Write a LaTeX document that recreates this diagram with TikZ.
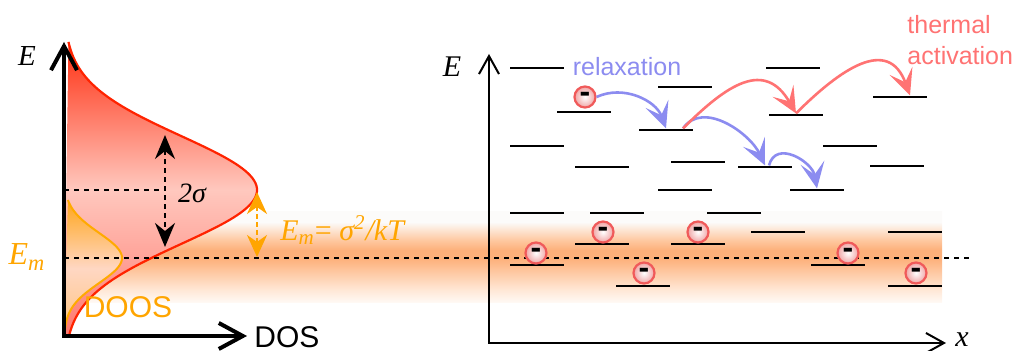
\documentclass[tikz,border=0pt]{standalone}
\usepackage{fontspec}
\setmainfont{Liberation Serif}
\setsansfont{Liberation Sans}
\usetikzlibrary{arrows.meta, calc}
\definecolor{dosred}{RGB}{255,35,0}
\definecolor{dostop}{RGB}{255,45,15}
\definecolor{dosmid}{RGB}{255,200,190}
\definecolor{dosbot}{RGB}{255,120,110}
\definecolor{doosline}{RGB}{255,170,0}
\definecolor{doostop}{RGB}{255,165,25}
\definecolor{doosmid}{RGB}{255,215,195}
\definecolor{doosbot}{RGB}{255,195,120}
\definecolor{emorange}{RGB}{255,165,0}
\definecolor{relaxblue}{RGB}{140,140,240}
\definecolor{thermred}{RGB}{255,115,115}
\definecolor{ering}{RGB}{240,90,90}
\definecolor{efill}{RGB}{240,165,165}
\definecolor{bandedge}{RGB}{255,250,246}
\definecolor{bandlow}{RGB}{255,232,215}
\definecolor{bandmid}{RGB}{254,205,170}
\definecolor{bandpeak}{RGB}{253,176,122}
\definecolor{bandup}{RGB}{254,200,160}
\definecolor{bandtop}{RGB}{252,251,250}
\pgfdeclareverticalshading{emband}{100bp}{color(0bp)=(bandedge); color(25bp)=(bandedge);
  color(32bp)=(bandlow); color(40.5bp)=(bandmid); color(49.5bp)=(bandpeak);
  color(54bp)=(bandpeak); color(59.5bp)=(bandup); color(69.5bp)=(bandtop);
  color(75bp)=(bandtop); color(100bp)=(bandtop)}

\tikzset{
  estate/.style={fill=black, inner sep=0pt, minimum width=27pt, minimum height=1.2pt},
  electron/.style={circle, draw=ering, line width=1.1pt, inner color=white, outer color=efill,
    minimum size=10.5pt, inner sep=0pt, font=\sffamily\bfseries\fontsize{16}{16}\selectfont},
  hop/.style={line width=1.3pt, -{Stealth[length=13pt,width=12pt,inset=6pt]}},
  emdash/.style={line width=1.2pt, dash pattern=on 2.5pt off 2.5pt},
}

\begin{document}
\begin{tikzpicture}[x=0.5pt, y=0.5pt]
  \useasboundingbox (0,0) rectangle (1017,351);
  % band around E_m
  \shade[shading=emband] (64,48) rectangle (942,139);

  % DOS and DOOS
  \shade[top color=dostop, bottom color=dosbot, middle color=dosmid]
    (64,14) -- plot[domain=14:309, samples=120] ({64+193*exp(-((\x-161)/54)^2/2)}, \x) -- cycle;
  \draw[dosred, line width=1.1pt] plot[domain=14:309, samples=120] ({64+193*exp(-((\x-161)/54)^2/2)}, \x);
  \shade[top color=doostop, bottom color=doosbot, middle color=doosmid]
    (64,14) -- plot[domain=14:151, samples=80] ({64+58*exp(-((\x-93)/25)^2/2)}, \x) -- cycle;
  \draw[doosline, line width=1pt] plot[domain=14:151, samples=80] ({64+58*exp(-((\x-93)/25)^2/2)}, \x);

  \coordinate (muL) at (64,161);
  \coordinate (muR) at (165,161);
  \coordinate (emL) at (64,93);
  \coordinate (emR) at (970,93);
  \draw[emdash] (muL) -- (muR);
  \draw[emdash] (emL) -- (emR);

  % 2 sigma and E_m arrows
  \coordinate (sigT) at (165,216);
  \coordinate (sigB) at (165,104);
  \draw[line width=1pt, dash pattern=on 2.5pt off 2pt,
    {Stealth[length=12pt,width=10pt,inset=4pt]}-{Stealth[length=12pt,width=10pt,inset=4pt]}] (sigT) -- (sigB);
  \coordinate (shT) at (257,159);
  \coordinate (shB) at (257,94);
  \draw[emorange, line width=1pt, dash pattern=on 2.5pt off 1.5pt,
    {Stealth[length=11pt,width=10pt,inset=3.5pt]}-{Stealth[length=11pt,width=10pt,inset=3.5pt]}] (shT) -- (shB);

  % left axes
  \coordinate (dosE) at (64,309);
  \coordinate (dosO) at (64,15);
  \coordinate (dosX) at (247,15);
  \draw[line width=2pt, {Straight Barb[length=12pt,width=13pt]}-{Straight Barb[length=12pt,width=13pt]}] (dosE) -- (dosO) -- (dosX);

  \node[font=\fontsize{14.5}{16}\selectfont\itshape] (Elab) at (27,295) {E};
  \node[emorange, font=\fontsize{16}{18}\selectfont\itshape] (Emlab) at (27,94) {E\textsubscript{m}};
  \node[emorange, font=\sffamily\fontsize{15}{17}\selectfont] (dooslab) at (128,44) {DOOS};
  \node[font=\sffamily\fontsize{15}{17}\selectfont] (doslab) at (287,14) {DOS};
  \node[font=\fontsize{14}{16}\selectfont\itshape] (siglab) at (192,158) {2σ};
  \node[emorange, anchor=west, inner sep=0pt, font=\fontsize{15}{17}\selectfont] (shiftlab) at (280,121)
    {\itshape E\textsubscript{m}\upshape= \itshape σ\textsuperscript{2}/kT};

  % right axes
  \coordinate (xE) at (489,297);
  \coordinate (xO) at (489,8);
  \coordinate (xX) at (946,8);
  \draw[line width=1pt, {Straight Barb[length=9pt,width=10pt]}-{Straight Barb[length=9pt,width=10pt]}] (xE) -- (xO) -- (xX);
  \node[font=\fontsize{15}{17}\selectfont\itshape] (Erlab) at (452,284) {E};
  \node[inner sep=0pt, font=\fontsize{15}{17}\selectfont\itshape] (xlab) at (962,11) {x};

  % hopping sites
  \foreach \n/\px/\py in {1/537/283, 2/685/264, 3/584/239, 4/666/221, 5/537/205, 6/602/184,
      7/698/189, 8/765/184, 9/685/161, 10/793/283, 11/796/236, 12/900/254, 13/850/205,
      14/897/185, 15/817/161, 16/537/138, 17/617/138, 18/734/138, 19/778/119, 20/915/119,
      21/602/107, 22/698/107, 23/537/86, 24/838/86, 25/643/65, 26/915/65}
    \node[estate] (l\n) at (\px,\py) {};

  % electrons
  \foreach \n/\px/\py in {1/585/254, 2/536/98, 3/603/119, 4/698/119, 5/644/78, 6/848/98, 7/916/78}
    \node[electron] (e\n) at (\px,\py) {-};

  % hops
  \coordinate (h4) at ($(l4.north)+(17,0)$);
  \coordinate (h8) at ($(l8.north)+(4,0)$);
  \coordinate (h12) at ($(l12.north)+(10,0)$);
  \draw[hop, relaxblue] (e1.east) to[out=25, in=110] (l4.north);
  \draw[hop, relaxblue] (h4) to[out=55, in=115] (l8.north);
  \draw[hop, relaxblue] (h8) to[out=75, in=100, looseness=1.3] (l15.north);
  \draw[hop, thermred] (h4) to[out=45, in=120, looseness=1.4] (l11.north);
  \draw[hop, thermred] (l11.north) to[out=45, in=110, looseness=1.4] (h12);

  \node[relaxblue, inner sep=0pt, font=\sffamily\fontsize{12.5}{15}\selectfont] (relaxlab) at (627,284) {relaxation};
  \node[thermred, anchor=west, align=left, inner sep=0pt, font=\sffamily\fontsize{12.5}{15.5}\selectfont]
    (thermlab) at (907,311) {thermal\\activation};
\end{tikzpicture}
\end{document}
